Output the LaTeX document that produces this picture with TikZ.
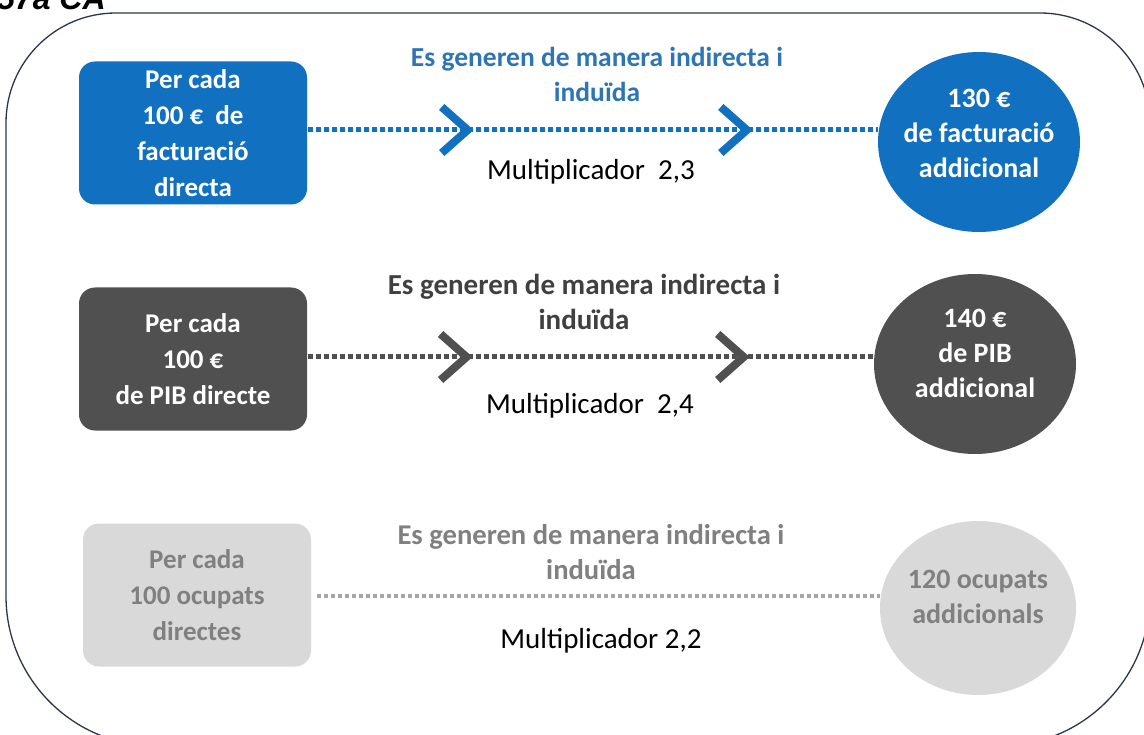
\documentclass[tikz,border=0pt]{standalone}
\usepackage{fontspec}
\setmainfont{Carlito}
\newfontfamily\headfont{Liberation Sans}
\usetikzlibrary{decorations.markings,shapes.geometric}
\definecolor{boxblue}{HTML}{1170C0}
\definecolor{txtblue}{HTML}{2E75B6}
\definecolor{boxdark}{HTML}{505050}
\definecolor{txtdark}{HTML}{404040}
\definecolor{boxlight}{HTML}{D9D9D9}
\definecolor{txtlight}{HTML}{808080}
\definecolor{linelight}{HTML}{A6A6A6}
\definecolor{framecol}{HTML}{2B3550}
\begin{document}
\begin{tikzpicture}[x=1pt,y=-1pt,
  srcbox/.style={rounded corners=16pt, minimum width=228pt, minimum height=143pt,
    align=center, inner sep=0pt, font=\fontsize{27}{36}\selectfont\bfseries},
  resnode/.style={ellipse, minimum width=202pt, minimum height=180pt, inner sep=0pt},
  restext/.style={align=center, inner sep=0pt, font=\fontsize{28}{35}\selectfont\bfseries},
  titletext/.style={align=center, inner sep=0pt, font=\fontsize{27.5}{35}\selectfont\bfseries},
  multtext/.style={inner sep=0pt, font=\fontsize{29}{30}\selectfont, text=black},
  flow/.style={line width=5pt, dash pattern=on 5pt off 3pt},
  chevrons/.style={postaction=decorate, decoration={markings,
    mark=at position 0.28 with {\draw[solid, line width=8pt, line join=miter, line cap=butt] (-26pt,23pt)--(0pt,0pt)--(-26pt,-23pt);},
    mark=at position 0.77 with {\draw[solid, line width=8pt, line join=miter, line cap=butt] (-26pt,23pt)--(0pt,0pt)--(-26pt,-23pt);}}}
]
\useasboundingbox (0,0) rectangle (1144,735);
\clip (0,0) rectangle (1144,735);
\fill[white] (0,0) rectangle (1144,735);

% heading (cut off at the top, as in the reference)
\node[anchor=base west, inner sep=0pt, font=\headfont\fontsize{32}{32}\selectfont\bfseries\itshape] (head) at (-3,10) {57a CA};

% outer frame
\draw[framecol, line width=1.3pt, rounded corners=110pt] (6,400) -- (6,13) -- (1150,13) -- (1150,400);
\draw[framecol, line width=1.3pt, rounded corners=150pt] (6,400) -- (6,746) -- (1150,746) -- (1150,400);

% row 1
\node[srcbox, fill=boxblue, text=white] (b1) at (193,133) {Per cada\\100 € \ de\\facturació\\directa};
\node[resnode, fill=boxblue] (c1) at (979,142) {};
\node[restext, text=white] (c1t) at ([yshift=9pt]c1.center) {130 €\\de facturació\\addicional};
\node[titletext, text=txtblue] (t1) at (597,74) {Es generen de manera indirecta i\\induïda};
\node[multtext] (m1) at (591,172) {Multiplicador \ 2,3};
\draw[flow, chevrons, boxblue] ([xshift=1pt]b1.east |- 0,130) -- (c1.west |- 0,130);

% row 2
\node[srcbox, fill=boxdark, text=white] (b2) at (193,359) {Per cada\\100 €\\de PIB directe};
\node[resnode, fill=boxdark] (c2) at (975,364) {};
\node[restext, text=white] (c2t) at ([yshift=11pt]c2.center) {140 €\\de PIB\\addicional};
\node[titletext, text=txtdark, font=\fontsize{29}{35}\selectfont\bfseries] (t2) at (584,302) {Es generen de manera indirecta i\\induïda};
\node[multtext] (m2) at (590,406) {Multiplicador \ 2,4};
\draw[flow, chevrons, boxdark] ([xshift=1pt]b2.east |- 0,357) -- (c2.west |- 0,357);

% row 3
\node[srcbox, fill=boxlight, text=txtlight] (b3) at (197,595) {Per cada\\100 ocupats\\directes};
\node[resnode, fill=boxlight, minimum width=196pt, minimum height=174pt] (c3) at (978,608) {};
\node[restext, text=txtlight] (c3t) at ([yshift=11pt]c3.center) {120 ocupats\\addicionals};
\node[titletext, text=txtlight, font=\fontsize{28.6}{35}\selectfont\bfseries] (t3) at (591,552) {Es generen de manera indirecta i\\induïda};
\node[multtext] (m3) at (601,641) {Multiplicador 2,2};
\draw[line width=4pt, dash pattern=on 4pt off 3pt, linelight] ([xshift=6pt]b3.east |- 0,596) -- (c3.west |- 0,596);
\end{tikzpicture}
\end{document}
